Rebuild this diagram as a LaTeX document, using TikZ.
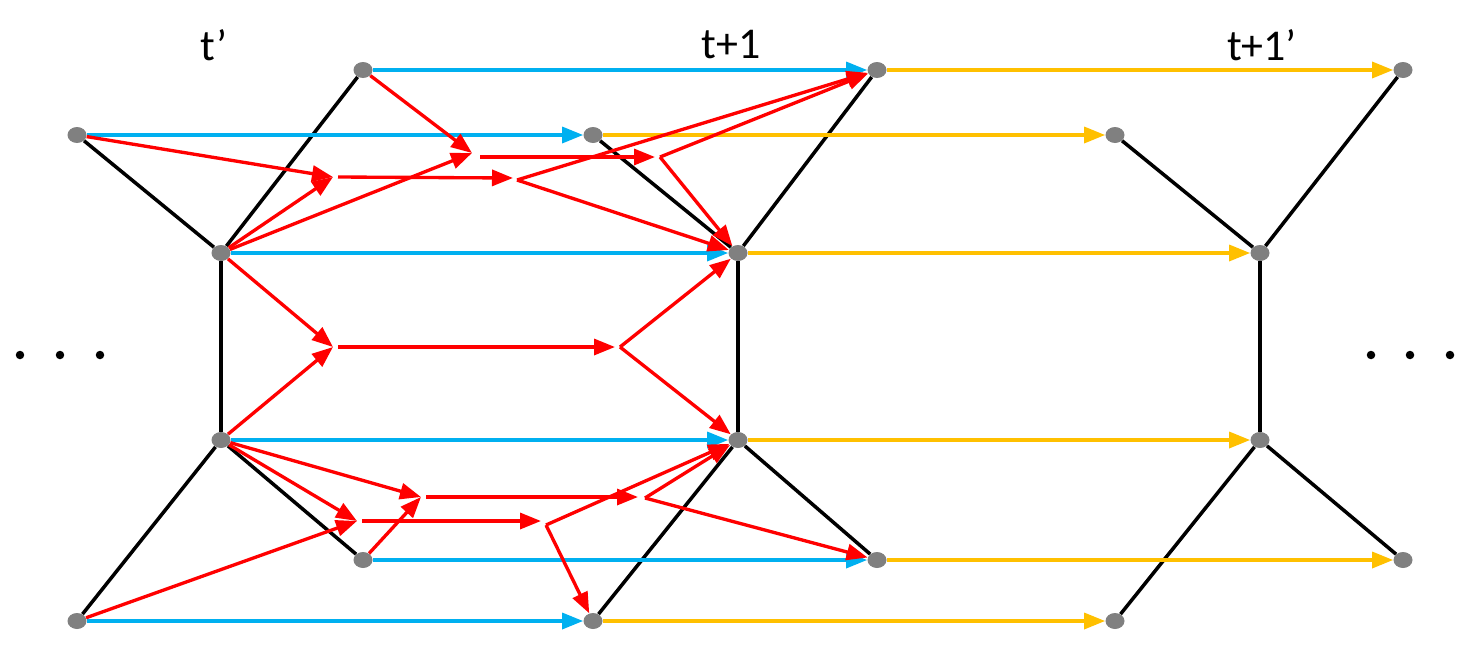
\documentclass[tikz,border=0pt]{standalone}
\usepackage{fontspec}
\setmainfont{Carlito}
\usetikzlibrary{arrows.meta,shapes.geometric}
\definecolor{cblue}{RGB}{0,176,240}
\definecolor{cyel}{RGB}{255,192,0}
\definecolor{cred}{RGB}{255,0,0}
\definecolor{cgray}{RGB}{128,128,128}
\begin{document}
\begin{tikzpicture}[x=0.02cm,y=-0.02cm,
  dot/.style={ellipse,fill=cgray,inner sep=0pt,minimum width=0.38cm,minimum height=0.32cm},
  edgeline/.style={line width=2pt,black},
  tip/.style={-{Triangle[length=0.42cm,width=0.32cm]}},
  bluearr/.style={line width=1.9pt,cblue,tip},
  yelarr/.style={line width=1.9pt,cyel,tip},
  redarr/.style={line width=1.9pt,cred,tip},
  lab/.style={font=\fontsize{25}{30}\selectfont,inner sep=0pt},
  ell/.style={circle,fill=black,inner sep=0pt,minimum size=0.17cm}]
\useasboundingbox (0,0) rectangle (1484,660);
% labels
\node[lab] (tl1) at (214,45) {t’};
\node[lab] (tl2) at (731,45) {t+1};
\node[lab] (tl3) at (1262,45) {t+1’};
% ellipsis dots
\node[ell] (e1) at (20,355) {};
\node[ell] (e2) at (60,355) {};
\node[ell] (e3) at (100,355) {};
\node[ell] (e4) at (1371,355) {};
\node[ell] (e5) at (1410,355) {};
\node[ell] (e6) at (1450,355) {};
% graph nodes
\node[dot] (L1) at (77,135) {};
\node[dot] (L2) at (363,70) {};
\node[dot] (L3) at (221,253) {};
\node[dot] (L4) at (221,440) {};
\node[dot] (L5) at (363,560) {};
\node[dot] (L6) at (77,621) {};
\node[dot] (M1) at (593,135) {};
\node[dot] (M2) at (877,70) {};
\node[dot] (M3) at (738,253) {};
\node[dot] (M4) at (738,440) {};
\node[dot] (M5) at (877,560) {};
\node[dot] (M6) at (593,621) {};
\node[dot] (R1) at (1115,135) {};
\node[dot] (R2) at (1403,70) {};
\node[dot] (R3) at (1260,253) {};
\node[dot] (R4) at (1260,440) {};
\node[dot] (R5) at (1403,560) {};
\node[dot] (R6) at (1115,621) {};
% auxiliary points
\coordinate (a1) at (333,177);  \coordinate (a1o) at (338,177);
\coordinate (b1) at (513,178);  \coordinate (b1o) at (517,180);
\coordinate (a2) at (472,153);  \coordinate (a2o) at (480,157);
\coordinate (b2) at (655,157);  \coordinate (b2o) at (660,157);
\coordinate (a3) at (333,347);  \coordinate (a3o) at (338,347);
\coordinate (b3) at (615,347);  \coordinate (b3o) at (620,347);
\coordinate (a4) at (421,497);  \coordinate (a4o) at (426,497);
\coordinate (b4) at (638,497);  \coordinate (b4o) at (645,498);
\coordinate (a5) at (357,521);  \coordinate (a5o) at (362,521);
\coordinate (b5) at (541,521);  \coordinate (b5o) at (546,525);
% black graph edges
\foreach \g in {L,M,R}{
  \draw[edgeline] (\g1) -- (\g3);
  \draw[edgeline] (\g2) -- (\g3);
  \draw[edgeline] (\g3) -- (\g4);
  \draw[edgeline] (\g4) -- (\g5);
  \draw[edgeline] (\g4) -- (\g6);
}
% blue and yellow arrows
\foreach \i in {1,...,6}{
  \draw[bluearr] (L\i) -- (M\i);
  \draw[yelarr] (M\i) -- (R\i);
}
% red arrows, top
\draw[redarr] (L1) -- (a1);
\draw[redarr] (L3) -- (a1);
\draw[redarr] (a1o) -- (b1);
\draw[redarr] (b1o) -- (M2);
\draw[redarr] (b1o) -- (M3);
\draw[redarr] (L2) -- (a2);
\draw[redarr] (L3) -- (a2);
\draw[redarr] (a2o) -- (b2);
\draw[redarr] (b2o) -- (M2);
\draw[redarr] (b2o) -- (M3);
% red arrows, middle
\draw[redarr] (L3) -- (a3);
\draw[redarr] (L4) -- (a3);
\draw[redarr] (a3o) -- (b3);
\draw[redarr] (b3o) -- (M3);
\draw[redarr] (b3o) -- (M4);
% red arrows, bottom
\draw[redarr] (L4) -- (a4);
\draw[redarr] (L5) -- (a4);
\draw[redarr] (a4o) -- (b4);
\draw[redarr] (b4o) -- (M4);
\draw[redarr] (b4o) -- (M5);
\draw[redarr] (L4) -- (a5);
\draw[redarr] (L6) -- (a5);
\draw[redarr] (a5o) -- (b5);
\draw[redarr] (b5o) -- (M4);
\draw[redarr] (b5o) -- (M6);
\end{tikzpicture}
\end{document}
